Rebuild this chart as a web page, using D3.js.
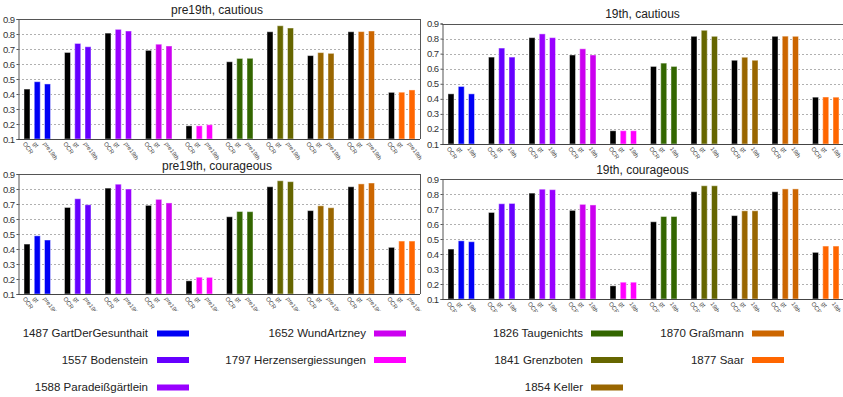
<!DOCTYPE html>
<html>
<head>
<meta charset="utf-8">
<script src="https://cdn.jsdelivr.net/npm/d3@7"></script>
<style>
  body { margin: 0; background: #fff; }
  svg { display: block; font-family: "Liberation Sans", Arial, sans-serif; }
</style>
</head>
<body>
<svg id="chart" width="843" height="397"></svg>
<script>
// documents and their colours
const docs = ["1487 GartDerGesunthait", "1557 Bodenstein", "1588 Paradeißgärtlein", "1652 WundArtzney",
  "1797 Herzensergiessungen", "1826 Taugenichts", "1841 Grenzboten", "1854 Keller", "1870 Graßmann", "1877 Saar"];
const docColors = ["#0000f5", "#6600ff", "#9900ff", "#cc00f0", "#ff00ff",
  "#336600", "#666600", "#996600", "#cc6600", "#ff6600"];

const yTicks = [0.1, 0.2, 0.3, 0.4, 0.5, 0.6, 0.7, 0.8, 0.9];

// OCR baseline is the same in every panel
const ocr = [0.433, 0.677, 0.806, 0.691, 0.188, 0.615, 0.815, 0.656, 0.815, 0.411];

// cautious
const gtCautious = [0.482, 0.737, 0.831, 0.732, 0.188, 0.637, 0.855, 0.676, 0.816, 0.412];
const pre19thCautious = [0.467, 0.715, 0.820, 0.720, 0.195, 0.638, 0.840, 0.671, 0.820, 0.427];
const c19thCautious = [0.433, 0.677, 0.806, 0.691, 0.188, 0.615, 0.815, 0.656, 0.815, 0.411];

// courageous
const gtCourageous = [0.488, 0.735, 0.832, 0.731, 0.212, 0.650, 0.855, 0.688, 0.834, 0.453];
const pre19thCourageous = [0.460, 0.695, 0.800, 0.707, 0.211, 0.649, 0.849, 0.675, 0.840, 0.453];
const c19thCourageous = [0.482, 0.737, 0.829, 0.727, 0.212, 0.650, 0.855, 0.688, 0.834, 0.453];

const svg = d3.select("#chart");

const panels = [
  { title: "pre19th, cautious", model: "pre19th", gt: gtCautious, vals: pre19thCautious,
    x0: 18, border: 420, yTop: 19, yBot: 139, titleY: 14, clipBot: 170 },
  { title: "19th, cautious", model: "19th", gt: gtCautious, vals: c19thCautious,
    x0: 442, border: null, yTop: 23.5, yBot: 144, titleY: 18, clipBot: 170 },
  { title: "pre19th, courageous", model: "pre19th", gt: gtCourageous, vals: pre19thCourageous,
    x0: 18, border: 420, yTop: 174, yBot: 294, titleY: 169.5, clipBot: 311 },
  { title: "19th, courageous", model: "19th", gt: gtCourageous, vals: c19thCourageous,
    x0: 442, border: null, yTop: 179, yBot: 299, titleY: 174, clipBot: 312 }
];

panels.forEach((p, pi) => {
  const g = svg.append("g");
  const xEnd = p.x0 + 405;
  const right = p.border || 843;

  const x = d3.scaleBand().domain(d3.range(docs.length)).range([p.x0, xEnd]);
  const xs = d3.scaleBand().domain(["OCR", "gt", p.model]).range([6, 32.5]).paddingInner(0.415);
  const y = d3.scaleLinear().domain([0.1, 0.9]).range([p.yBot, p.yTop]);

  // dotted gridlines
  g.selectAll("line.grid")
    .data(yTicks.filter(t => t > 0.1 && t < 0.9))
    .join("line")
    .attr("x1", p.x0).attr("x2", right)
    .attr("y1", d => Math.round(y(d)) + 0.5).attr("y2", d => Math.round(y(d)) + 0.5)
    .attr("stroke", "#b0b0b0").attr("stroke-dasharray", "2,2");

  // top and right frame lines
  g.append("line")
    .attr("x1", p.x0).attr("x2", right)
    .attr("y1", Math.round(y(0.9)) + 0.5).attr("y2", Math.round(y(0.9)) + 0.5)
    .attr("stroke", "#555");
  if (p.border) {
    g.append("line")
      .attr("x1", p.border + 0.5).attr("x2", p.border + 0.5)
      .attr("y1", y(0.9)).attr("y2", y(0.1))
      .attr("stroke", "#555");
  }

  // bars
  const rows = d3.range(docs.length).flatMap(i => [
    { i, key: "OCR", v: ocr[i], color: "#000" },
    { i, key: "gt", v: p.gt[i], color: docColors[i] },
    { i, key: p.model, v: p.vals[i], color: docColors[i] }
  ]);
  g.selectAll("rect.bar")
    .data(rows)
    .join("rect")
    .attr("x", d => x(d.i) + xs(d.key))
    .attr("width", xs.bandwidth())
    .attr("y", d => y(d.v))
    .attr("height", d => y(0.1) - y(d.v))
    .attr("fill", d => d.color)
    .attr("stroke", "#fff").attr("stroke-opacity", 0.45).attr("stroke-width", 1);

  // y axis
  const yAxis = g.append("g")
    .attr("transform", `translate(${p.x0 + 0.5},0)`)
    .call(d3.axisLeft(y).tickValues(yTicks).tickSize(2).tickPadding(2).tickFormat(d3.format(".1f")));
  yAxis.select(".domain").attr("stroke", "#555");
  yAxis.selectAll(".tick line").attr("stroke", "#555");
  yAxis.selectAll(".tick text")
    .attr("font-size", 9.5).attr("fill", "#333").attr("letter-spacing", "-0.6px")
    .attr("font-family", "Liberation Sans, Arial, sans-serif");

  // x axis line
  g.append("line")
    .attr("x1", p.x0).attr("x2", right)
    .attr("y1", Math.round(y(0.1)) + 0.5).attr("y2", Math.round(y(0.1)) + 0.5)
    .attr("stroke", "#444");

  // rotated x labels, clipped at the bottom like the original
  const clipId = "clip" + pi;
  svg.append("clipPath").attr("id", clipId)
    .append("rect").attr("x", 0).attr("y", p.yBot).attr("width", 843).attr("height", p.clipBot - p.yBot);
  const lab = g.append("g").attr("clip-path", `url(#${clipId})`);
  const labRows = d3.range(docs.length).flatMap(i => ["OCR", "gt", p.model].map(k => ({ i, k })));
  lab.selectAll("text")
    .data(labRows)
    .join("text")
    .attr("transform", d => `translate(${x(d.i) + xs(d.k) + 1},${p.yBot + 3}) rotate(55)`)
    .attr("dy", "0.5em")
    .attr("font-size", 6)
    .attr("fill", "#444")
    .text(d => d.k);

  // title
  svg.append("text")
    .attr("x", (p.x0 + right) / 2 + (p.border ? -2 : 0))
    .attr("y", p.titleY)
    .attr("text-anchor", "middle")
    .attr("font-size", 12)
    .attr("fill", "#222")
    .text(p.title);
});

// legend: text right aligned, swatch to the right
const legendCols = [
  { textEnd: 148, sw: 157, items: [0, 1, 2] },
  { textEnd: 366, sw: 374, items: [3, 4] },
  { textEnd: 583, sw: 591, items: [5, 6, 7] },
  { textEnd: 744, sw: 752, items: [8, 9] }
];
const rowY = [337, 363.5, 391];

legendCols.forEach(col => {
  const lg = svg.append("g");
  lg.selectAll("text")
    .data(col.items)
    .join("text")
    .attr("x", col.textEnd)
    .attr("y", (d, j) => rowY[j])
    .attr("text-anchor", "end")
    .attr("font-size", 11.5)
    .attr("fill", "#222")
    .text(d => docs[d]);
  lg.selectAll("rect")
    .data(col.items)
    .join("rect")
    .attr("x", col.sw)
    .attr("y", (d, j) => rowY[j] - 6.5)
    .attr("width", 32)
    .attr("height", 6)
    .attr("fill", d => docColors[d]);
});
</script>
</body>
</html>
